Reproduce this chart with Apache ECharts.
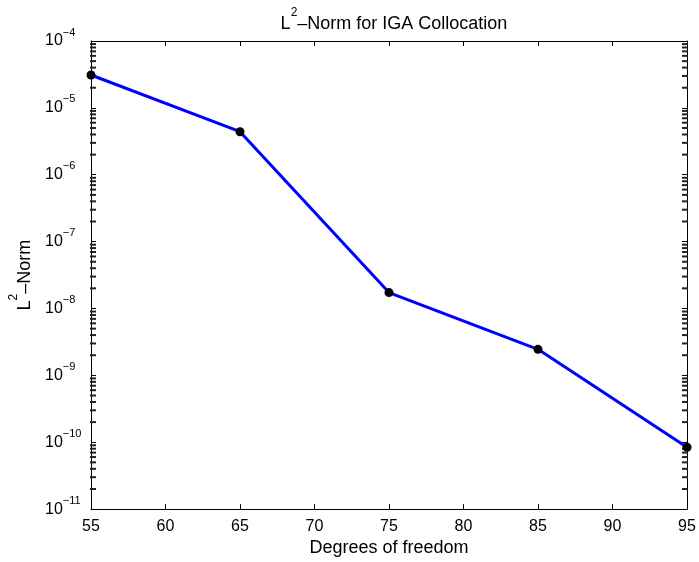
<!DOCTYPE html>
<html>
<head>
<meta charset="utf-8">
<title>L2-Norm for IGA Collocation</title>
<script src="https://cdn.jsdelivr.net/npm/echarts@6/dist/echarts.min.js"></script>
<style>
  html, body { margin: 0; padding: 0; background: #fff; }
  #chart { width: 699px; height: 562px; }
</style>
</head>
<body>
<div id="chart"></div>
<script>
// Degrees of freedom and the measured L2 error
const dof = [55, 65, 75, 85, 95];
const l2Error = [3.1e-5, 4.4e-6, 1.73e-8, 2.45e-9, 8.4e-11];

// Axis ranges
const xTicks = [55, 60, 65, 70, 75, 80, 85, 90, 95];
const yMin = 1e-11;
const yMax = 1e-4;

// Log-scale minor ticks (2..9 in every decade)
const minorTicks = [];
for (let e = -11; e < -4; e++) {
  for (let m = 2; m <= 9; m++) minorTicks.push(m * Math.pow(10, e));
}

const FONT = '"Liberation Sans", Arial, Helvetica, sans-serif';

function powerLabel(v) {
  const e = Math.round(Math.log10(v));
  return '{b|10}{s|\u2212' + Math.abs(e) + '}';
}

const richPow = {
  b: { fontSize: 16, fontFamily: FONT, color: '#000', lineHeight: 22, verticalAlign: 'bottom' },
  s: { fontSize: 11, fontFamily: FONT, color: '#000', lineHeight: 11, verticalAlign: 'top' }
};

const richName = {
  b: { fontSize: 18, fontWeight: 'normal', fontFamily: FONT, color: '#000', lineHeight: 26, verticalAlign: 'bottom' },
  s: { fontSize: 12, fontWeight: 'normal', fontFamily: FONT, color: '#000', lineHeight: 12, verticalAlign: 'top' }
};

const chart = echarts.init(document.getElementById('chart'), null, { renderer: 'canvas' });

const lineAxis = { show: true, lineStyle: { color: '#000', width: 1 } };
const majorTick = { show: true, inside: true, length: 5, lineStyle: { color: '#000', width: 1 } };

// short horizontal dashes that sit inside the frame on the left / right edge
function minorTickSeries(xVal, dir) {
  return {
    type: 'scatter',
    xAxisIndex: 0,
    yAxisIndex: 0,
    silent: true,
    clip: false,
    symbol: 'rect',
    symbolSize: [6, 2],
    symbolOffset: [dir * 2, 0],
    itemStyle: { color: '#222', opacity: 1 },
    data: minorTicks.map(v => [xVal, v]),
    z: 10
  };
}

chart.setOption({
  animation: false,
  backgroundColor: '#fff',
  title: {
    text: '{b|L}{s|2}{b|\u2013Norm for IGA Collocation}',
    left: 389,
    top: 2,
    textAlign: 'center',
    textStyle: { fontWeight: 'normal', rich: richName }
  },
  grid: { left: 91, right: 12, top: 41, bottom: 52 },
  xAxis: [
    {
      type: 'value',
      min: xTicks[0],
      max: xTicks[xTicks.length - 1],
      interval: 5,
      position: 'bottom',
      axisLine: lineAxis,
      axisTick: majorTick,
      splitLine: { show: false },
      axisLabel: { fontSize: 16, fontFamily: FONT, color: '#000', margin: 9 },
      name: 'Degrees of freedom',
      nameLocation: 'middle',
      nameGap: 28,
      nameTextStyle: { fontSize: 18, fontFamily: FONT, color: '#000' }
    },
    {
      type: 'value',
      min: xTicks[0],
      max: xTicks[xTicks.length - 1],
      interval: 5,
      position: 'top',
      axisLine: lineAxis,
      axisTick: majorTick,
      splitLine: { show: false },
      axisLabel: { show: false }
    }
  ],
  yAxis: [
    {
      type: 'log',
      logBase: 10,
      min: yMin,
      max: yMax,
      splitNumber: 7,
      position: 'left',
      axisLine: lineAxis,
      axisTick: majorTick,
      splitLine: { show: false },
      axisLabel: {
        formatter: powerLabel,
        align: 'left',
        margin: 46,
        padding: [0, 0, 6, 0],
        rich: richPow
      },
      name: '{b|L}{s|2}{b|\u2013Norm}',
      nameLocation: 'middle',
      nameGap: 48,
      nameTextStyle: { rich: richName }
    },
    {
      type: 'log',
      logBase: 10,
      min: yMin,
      max: yMax,
      splitNumber: 7,
      position: 'right',
      axisLine: lineAxis,
      axisTick: majorTick,
      splitLine: { show: false },
      axisLabel: { show: false }
    }
  ],
  series: [
    minorTickSeries(xTicks[0], 1),
    minorTickSeries(xTicks[xTicks.length - 1], -1),
    {
      type: 'line',
      xAxisIndex: 0,
      yAxisIndex: 0,
      clip: false,
      data: dof.map((x, i) => [x, l2Error[i]]),
      symbol: 'circle',
      symbolSize: 9,
      itemStyle: { color: '#000' },
      lineStyle: { color: '#0000ff', width: 3 },
      z: 20
    }
  ]
});
</script>
</body>
</html>
